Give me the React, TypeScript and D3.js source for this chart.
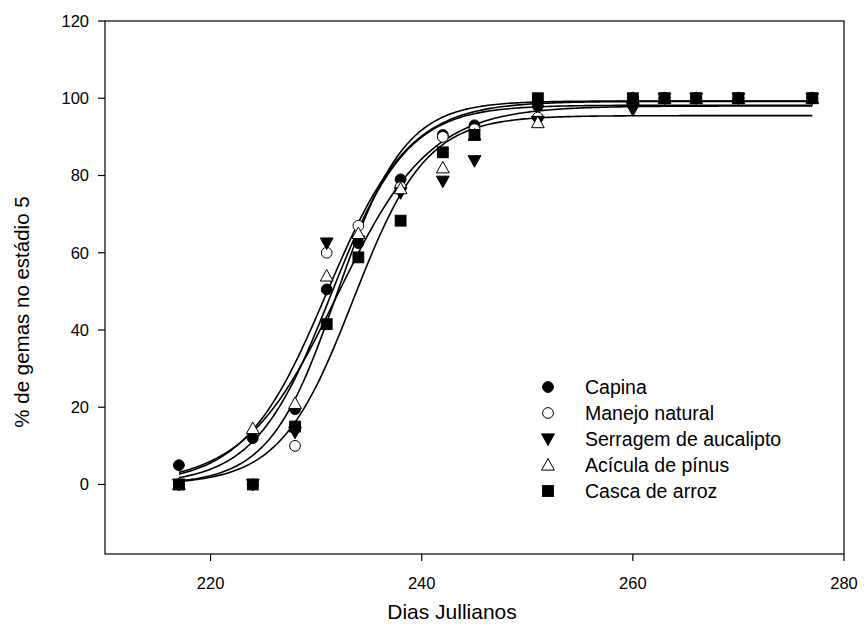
import React from "react";
import * as d3 from "d3";

// Julian days of each observation
const days = [217, 224, 228, 231, 234, 238, 242, 245, 251, 260, 263, 266, 270, 277];

// % of buds at stage 5, one array per treatment
const capina = [5, 12, 19.5, 50.5, 62.5, 79, 90.5, 93, 98, 100, 100, 100, 100, 100];
const manejoNatural = [0, 0, 10, 60, 67, 77, 90, 92, 95, 100, 100, 100, 100, 100];
const serragem = [0, 0, 13.5, 62.5, 63, 75.5, 78.5, 83.8, 94, 97, 100, 100, 100, 100];
const acicula = [0, 14.5, 21, 54, 65, 76.6, 82, 90.5, 93.7, 100, 100, 100, 100, 100];
const casca = [0, 0, 15, 41.5, 58.8, 68.3, 86, 90.5, 100, 100, 100, 100, 100, 100];

// Fitted sigmoid parameters y = a / (1 + exp(-(x - x0) / b))
const fitA = [99.2, 99.3, 98.0, 98.2, 95.5];
const fitX0 = [231.0, 232.0, 232.0, 231.4, 233.5];
const fitB = [3.9, 3.2, 4.4, 3.6, 3.45];

const seriesNames = ["Capina", "Manejo natural", "Serragem de aucalipto", "Acícula de pínus", "Casca de arroz"];
const seriesValues = [capina, manejoNatural, serragem, acicula, casca];
const seriesShapes = ["circle", "circle", "triangleDown", "triangle", "square"];
const seriesFilled = [true, false, true, false, true];

const xTicks = [220, 240, 260, 280];
const yTicks = [0, 20, 40, 60, 80, 100, 120];

const W = 864;
const H = 639;
const FONT = "Liberation Sans, Arial, Helvetica, sans-serif";

function Marker({ shape, filled, cx, cy }: { shape: string; filled: boolean; cx: number; cy: number }) {
  const fill = filled ? "#000" : "#fff";
  const stroke = "#000";
  if (shape === "circle") {
    return <circle cx={cx} cy={cy} r={5.4} fill={fill} stroke={stroke} strokeWidth={1} />;
  }
  if (shape === "square") {
    return <rect x={cx - 5.4} y={cy - 5.4} width={10.8} height={10.8} fill={fill} stroke={stroke} strokeWidth={1} />;
  }
  const s = 6.4;
  const pts =
    shape === "triangle"
      ? [[cx, cy - s], [cx + s, cy + s * 0.8], [cx - s, cy + s * 0.8]]
      : [[cx, cy + s], [cx + s, cy - s * 0.8], [cx - s, cy - s * 0.8]];
  return <polygon points={pts.map((p) => p.join(",")).join(" ")} fill={fill} stroke={stroke} strokeWidth={1} />;
}

export default function App() {
  const left = 105;
  const right = 844;
  const top = 21;
  const bottom = 554;

  const x = d3.scaleLinear().domain([210, 280]).range([left, right]);
  const y = d3.scaleLinear().domain([-18, 120]).range([bottom, top]);

  const line = d3
    .line<number[]>()
    .x((d) => x(d[0]))
    .y((d) => y(d[1]))
    .curve(d3.curveLinear);

  const curveDays = d3.range(217, 277.001, 0.25);
  const fits = fitA.map((a, i) =>
    curveDays.map((t) => [t, a / (1 + Math.exp(-(t - fitX0[i]) / fitB[i]))])
  );

  const legendX = 548;
  const legendTextX = 585;
  const legendY0 = 387;
  const legendStep = 26;

  return (
    <svg width={W} height={H} style={{ display: "block", position: "absolute", left: 0, top: 0, background: "#fff" }} fontFamily={FONT}>
      <rect x={0} y={0} width={W} height={H} fill="#fff" />
      {/* plot frame */}
      <rect x={left} y={top} width={right - left} height={bottom - top} fill="none" stroke="#000" strokeWidth={1.2} />

      {/* x axis ticks */}
      {xTicks.map((t) => (
        <g key={"xt" + t}>
          <line x1={x(t)} x2={x(t)} y1={bottom} y2={bottom + 7} stroke="#000" strokeWidth={1.2} />
          <text x={x(t)} y={bottom + 35} textAnchor="middle" fontSize={16.5}>
            {t}
          </text>
        </g>
      ))}

      {/* y axis ticks */}
      {yTicks.map((t) => (
        <g key={"yt" + t}>
          <line x1={left - 7} x2={left} y1={y(t)} y2={y(t)} stroke="#000" strokeWidth={1.2} />
          <text x={left - 16} y={y(t)} textAnchor="end" dominantBaseline="central" fontSize={16.5}>
            {t}
          </text>
        </g>
      ))}

      {/* fitted curves */}
      {fits.map((f, i) => (
        <path key={"fit" + i} d={line(f) || ""} fill="none" stroke="#000" strokeWidth={1.6} />
      ))}

      {/* observations */}
      {seriesValues.map((vals, si) =>
        vals.map((v, j) => (
          <Marker key={si + "-" + j} shape={seriesShapes[si]} filled={seriesFilled[si]} cx={x(days[j])} cy={y(v)} />
        ))
      )}

      {/* legend */}
      {seriesNames.map((name, i) => (
        <g key={"lg" + i}>
          <Marker shape={seriesShapes[i]} filled={seriesFilled[i]} cx={legendX} cy={legendY0 + i * legendStep} />
          <text x={legendTextX} y={legendY0 + i * legendStep} dominantBaseline="central" fontSize={19.5}>
            {name}
          </text>
        </g>
      ))}

      {/* axis titles */}
      <text x={452} y={619} textAnchor="middle" fontSize={21}>
        Dias Jullianos
      </text>
      <text
        transform={`translate(21, 312) rotate(-90)`}
        textAnchor="middle"
        dominantBaseline="central"
        fontSize={20.5}
      >
        % de gemas no estádio 5
      </text>
    </svg>
  );
}
